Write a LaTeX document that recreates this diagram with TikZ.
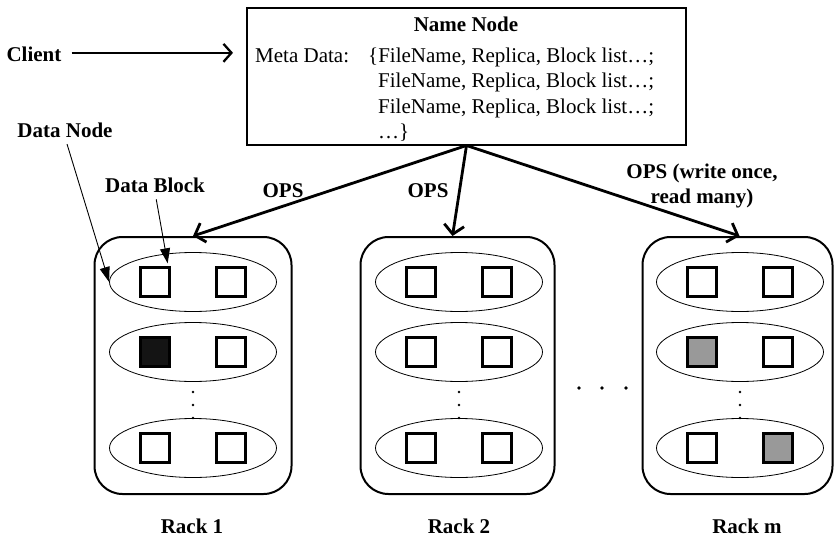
\documentclass[tikz,border=0pt]{standalone}
\usepackage{fontspec}
\setmainfont{Liberation Serif}
\usetikzlibrary{arrows.meta,shapes.geometric,calc}
\begin{document}
\begin{tikzpicture}[x=1pt,y=-1pt,
  lbl/.style={font=\fontsize{21}{25}\selectfont\bfseries, inner sep=0pt, anchor=base},
  txt/.style={font=\fontsize{21}{25}\selectfont, inner sep=0pt, anchor=base west},
  rackbox/.style={draw, line width=2pt, rounded corners=28pt, minimum height=257pt, inner sep=0pt},
  dnode/.style={draw, ellipse, line width=0.8pt, minimum width=167pt, minimum height=59pt, inner sep=0pt},
  blk/.style={draw, line width=2.3pt, minimum size=29pt, inner sep=0pt},
  ops/.style={line width=2.8pt, -{Straight Barb[length=9pt,width=20pt]}},
  thinarrow/.style={line width=0.9pt, -{Triangle[length=15pt,width=10pt]}},
  dot/.style={fill=black, draw=none},
]
\useasboundingbox (0,0) rectangle (835,543);

% Name node
\node[draw, line width=2pt, minimum width=439pt, minimum height=136pt, inner sep=0pt] (nn) at (466.5,76.5) {};
\node[lbl] (nntitle) at (466,32) {Name Node};
\node[txt] (meta) at (255,63) {Meta Data:};
\node[txt] (m1) at (368,63) {\{FileName, Replica, Block list…;};
\node[txt] (m2) at (378,88) {FileName, Replica, Block list…;};
\node[txt] (m3) at (378,113) {FileName, Replica, Block list…;};
\node[txt] (m4) at (378,138) {…\}};

% Client
\node[lbl] (client) at (34,62) {Client};
\draw[line width=2.3pt, -{Straight Barb[length=8pt,width=18pt]}, shorten <=10pt, shorten >=13pt]
  ([yshift=2pt]client.east) -- ([yshift=2pt]client.east -| nn.west);

% Racks
\node[rackbox, minimum width=197pt] (r1) at (193,365.5) {};
\node[rackbox, minimum width=194pt] (r2) at (457.5,365.5) {};
\node[rackbox, minimum width=190pt] (r3) at (737.5,365.5) {};

\foreach \r/\cx in {1/193, 2/459, 3/740} {
  \foreach \row/\cy in {1/282, 2/352, 3/448} {
    \node[dnode] (e\r\row) at (\cx,\cy) {};
    \node[blk] (s\r\row a) at (\cx-38,\cy) {};
    \node[blk] (s\r\row b) at (\cx+38,\cy) {};
  }
  \foreach \dy in {392,405,418} {
    \fill[dot] (\cx,\dy) circle (1.3pt);
  }
}
% filled blocks
\node[blk, fill=black!92] at (s12a) {};
\node[blk, fill=black!40] at (s32a) {};
\node[blk, fill=black!40] at (s33b) {};

% horizontal dots
\foreach \dx in {579,602,626} {
  \fill[dot] (\dx,388) circle (1.8pt);
}

% Rack labels
\node[lbl] (rl1) at (192,533) {Rack 1};
\node[lbl] (rl2) at (459,533) {Rack 2};
\node[lbl] (rl3) at (747,533) {Rack m};

% OPS arrows
\draw[ops] (nn.south) -- (r1.north);
\draw[ops] (nn.south) -- ([xshift=-5pt]r2.north);
\draw[ops] (nn.south) -- ([xshift=2pt]r3.north);
\node[lbl] (ops1) at (283,197) {OPS};
\node[lbl] (ops2) at (428,197) {OPS};
\node[lbl] (ops3a) at (702,178) {OPS (write once,};
\node[lbl] (ops3b) at (702,203) {read many)};

% Data node / block labels
\node[lbl] (dn) at (65,137) {Data Node};
\node[lbl] (db) at (155,192) {Data Block};
\draw[thinarrow, shorten <=7pt] (dn.south) -- (e11.west);
\draw[thinarrow, shorten <=7pt] (db.south) -- ([xshift=-3pt,yshift=3pt]s11a.north east);
\end{tikzpicture}
\end{document}
